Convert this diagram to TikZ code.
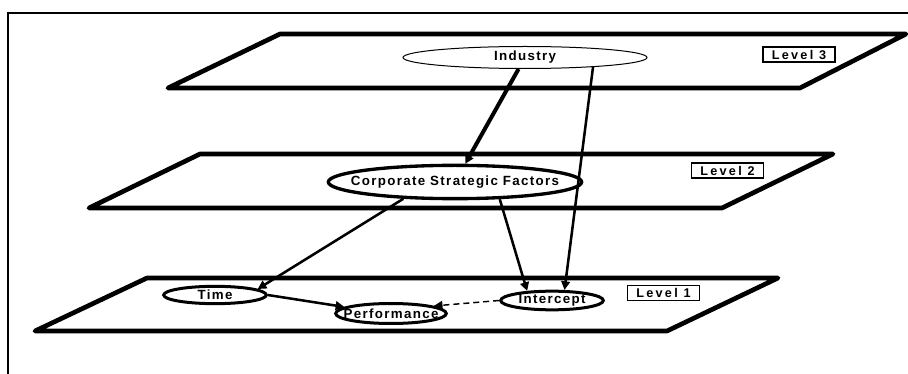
\documentclass[tikz,border=0pt]{standalone}
\usepackage{fontspec}
\usetikzlibrary{shapes.geometric,arrows.meta}
\newfontfamily\ovalfont[LetterSpace=10]{Liberation Sans Bold}
\newfontfamily\lvlfont[LetterSpace=18]{Liberation Sans Bold}

\tikzset{every picture/.style={line width=0.75pt}}

\begin{document}
\begin{tikzpicture}[x=0.75pt,y=0.75pt,yscale=-1,xscale=1,
  plane/.style={line width=3.5pt, fill=white, line join=round},
  oval/.style={ellipse, draw, fill=white, inner sep=0pt, line width=2.25pt,
    label={[font=\fontsize{10}{12}\ovalfont]center:#1}},
  lvl/.style={draw, line width=1pt, inner sep=0pt, minimum width=54pt, minimum height=11.25pt, font=\fontsize{9.5}{11}\lvlfont},
  arr/.style={line width=1.9pt, -{Triangle[length=6.5pt,width=6.5pt]}}]
\useasboundingbox (0,0) rectangle (908,374);
\clip (0,0) rectangle (908,374);

%Shape: Frame
\draw [line width=1.5pt] (8,13) rectangle (930,400);

%Shape: Parallelogram [Level 3]
\draw [plane] (280,34) -- (906,34) -- (800,88) -- (168,88) -- cycle ;
%Shape: Parallelogram [Level 2]
\draw [plane] (200,154) -- (833,154) -- (722,208) -- (89,208) -- cycle ;
%Shape: Parallelogram [Level 1]
\draw [plane] (147,278) -- (778,278) -- (667,331) -- (35,331) -- cycle ;

% Level boxes
\node (lvlthree) [lvl] at (799,54.5) {Level 3};
\node (lvltwo) [lvl] at (727.5,170.5) {Level 2};
\node (lvlone) [lvl] at (663.5,293) {Level 1};

% Ellipses
\node (ind) [oval=Industry, line width=0.75pt, minimum width=183pt, minimum height=16.5pt] at (525,57.5) {};
\node (csf) [oval=Corporate Strategic Factors, line width=2.5pt, minimum width=190pt, minimum height=25pt] at (455,182) {};
\node (time) [oval=Time, minimum width=77pt, minimum height=13pt] at (215,295) {};
\node (perf) [oval=Performance, minimum width=83pt, minimum height=15pt] at (391,313.5) {};
\node (icpt) [oval=Intercept, minimum width=77pt, minimum height=14pt] at (552,300.5) {};

% Connectors
\draw [arr, line width=3pt] (ind) -- (csf) ;
\draw [arr] (ind.-8) -- (icpt.40) ;
\draw [arr] (csf.198) -- (time.8) ;
\draw [arr] (csf.-21) -- (icpt.159) ;
\draw [arr] (time.east) -- (perf.172) ;
\draw [arr, line width=1.1pt, dash pattern={on 4.5pt off 3pt}] (icpt.west) -- (perf.10) ;
\end{tikzpicture}
\end{document}
